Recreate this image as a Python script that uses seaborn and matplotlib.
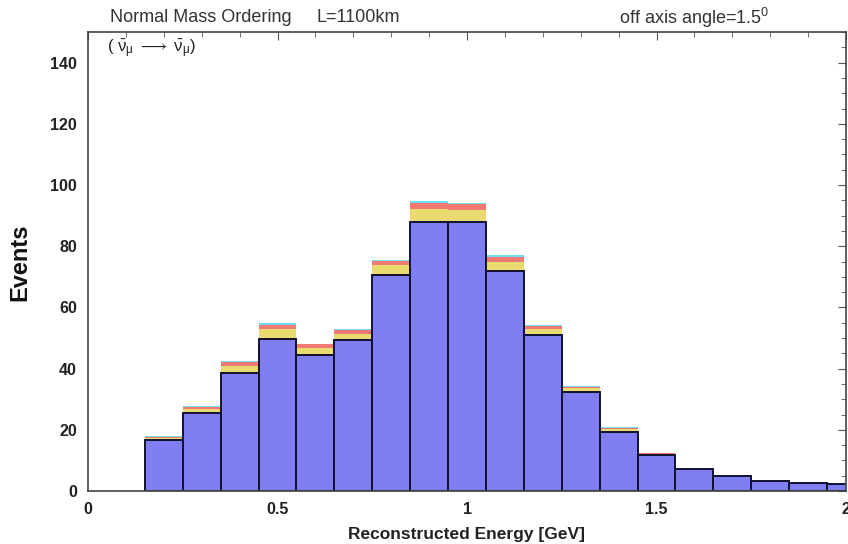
import numpy as np
import pandas as pd
import seaborn as sns
import matplotlib
matplotlib.use("Agg")
import matplotlib.pyplot as plt
from matplotlib.ticker import MultipleLocator

# ---- data ----
bin_centers = [0.2, 0.3, 0.4, 0.5, 0.6, 0.7, 0.8, 0.9, 1.0, 1.1,
               1.2, 1.3, 1.4, 1.5, 1.6, 1.7, 1.8, 1.9, 2.0]
signal = [16.6, 25.4, 38.7, 49.7, 44.4, 49.2, 70.7, 87.9, 87.9, 71.9,
          50.9, 32.4, 19.4, 11.7, 7.1, 4.9, 3.4, 2.6, 2.4]
bkg_yellow = [0.8, 1.4, 2.3, 3.1, 2.3, 2.2, 3.0, 4.2, 3.8, 3.0,
              2.0, 1.1, 0.8, 0.45, 0.3, 0.12, 0.06, 0.05, 0.05]
bkg_red = [0.4, 0.75, 1.2, 1.6, 1.2, 1.1, 1.5, 2.1, 2.0, 1.6,
           1.0, 0.6, 0.45, 0.25, 0.15, 0.06, 0.03, 0.03, 0.03]
bkg_cyan = [0.1, 0.25, 0.3, 0.5, 0.3, 0.3, 0.4, 0.5, 0.4, 0.5,
            0.3, 0.2, 0.15, 0.1, 0.05, 0.02, 0.01, 0.01, 0.01]

x_ticks = [0, 0.5, 1, 1.5, 2]
x_tick_labels = ["0", "0.5", "1", "1.5", "2"]
y_ticks = [0, 20, 40, 60, 80, 100, 120, 140]

# ---- style ----
sns.set_theme(style="white")
plt.rcParams["font.family"] = ["Liberation Sans", "DejaVu Sans"]
plt.rcParams["mathtext.fontset"] = "custom"
plt.rcParams["mathtext.rm"] = "Liberation Sans"
plt.rcParams["mathtext.it"] = "Liberation Sans"

W, H = 848, 544
fig = plt.figure(figsize=(W / 100, H / 100), dpi=100)
ax = fig.add_axes([88 / W, (H - 491) / H, (846 - 88) / W, (491 - 32) / H])

df = pd.DataFrame({
    "E": bin_centers,
    "signal": signal,
    "yellow": bkg_yellow,
    "red": bkg_red,
    "cyan": bkg_cyan,
})
layers = ["signal", "yellow", "red", "cyan"]
cum = df[layers].cumsum(axis=1)
for name in layers:
    df["cum_" + name] = cum[name]

edges = [round(v, 3) for v in np.arange(0.15, 2.06, 0.1)]
colors = {"cyan": "#6fdcef", "red": "#f27a72", "yellow": "#eada72", "signal": "#7f7ff2"}

# draw from the top layer down, each as a cumulative histogram
for name in ["cyan", "red", "yellow"]:
    sns.histplot(data=df, x="E", weights="cum_" + name, bins=edges, ax=ax,
                 color=colors[name], alpha=1.0, linewidth=0, element="bars")
sns.histplot(data=df, x="E", weights="cum_signal", bins=edges, ax=ax,
             color=colors["signal"], alpha=1.0, edgecolor="#111133",
             linewidth=1.4, element="bars")

ax.set_xlim(0, 2)
ax.set_ylim(0, 150)
ax.set_xticks(x_ticks)
ax.set_xticklabels(x_tick_labels)
ax.set_yticks(y_ticks)
ax.xaxis.set_minor_locator(MultipleLocator(0.1))
ax.yaxis.set_minor_locator(MultipleLocator(5))
ax.tick_params(which="both", direction="in", top=True, right=True,
               colors="#555555", labelcolor="#222222")
ax.tick_params(which="major", length=6, width=0.8, labelsize=11.5, pad=8)
ax.tick_params(which="minor", length=3.5, width=0.6)
for lab in ax.get_xticklabels() + ax.get_yticklabels():
    lab.set_fontweight("bold")
for sp in ax.spines.values():
    sp.set_color("#444444")
    sp.set_linewidth(1.2)

ax.set_xlabel("")
ax.set_ylabel("")
fig.text(467 / W, 1 - 534 / H, "Reconstructed Energy [GeV]", fontsize=12.5,
         fontweight="bold", color="#222222", ha="center", va="center")
fig.text(20 / W, 1 - 262 / H, "Events", fontsize=17, fontweight="bold",
         color="#111111", rotation=90, ha="center", va="center")

fig.text(107 / W, 1 - 49 / H,
         r"( $\bar{\nu}_{\mu}$ $\longrightarrow$ $\bar{\nu}_{\mu}$)",
         fontsize=12, color="#222222", va="center", ha="left")

fig.text(110 / W, 1 - 18 / H, "Normal Mass Ordering", fontsize=13,
         color="#333333", va="center", ha="left")
fig.text(317 / W, 1 - 18 / H, "L=1100km", fontsize=13,
         color="#333333", va="center", ha="left")
fig.text(619 / W, 1 - 18 / H, r"off axis angle=1.5$^{0}$", fontsize=13,
         color="#333333", va="center", ha="left")

fig.savefig("out.png", dpi=100)
